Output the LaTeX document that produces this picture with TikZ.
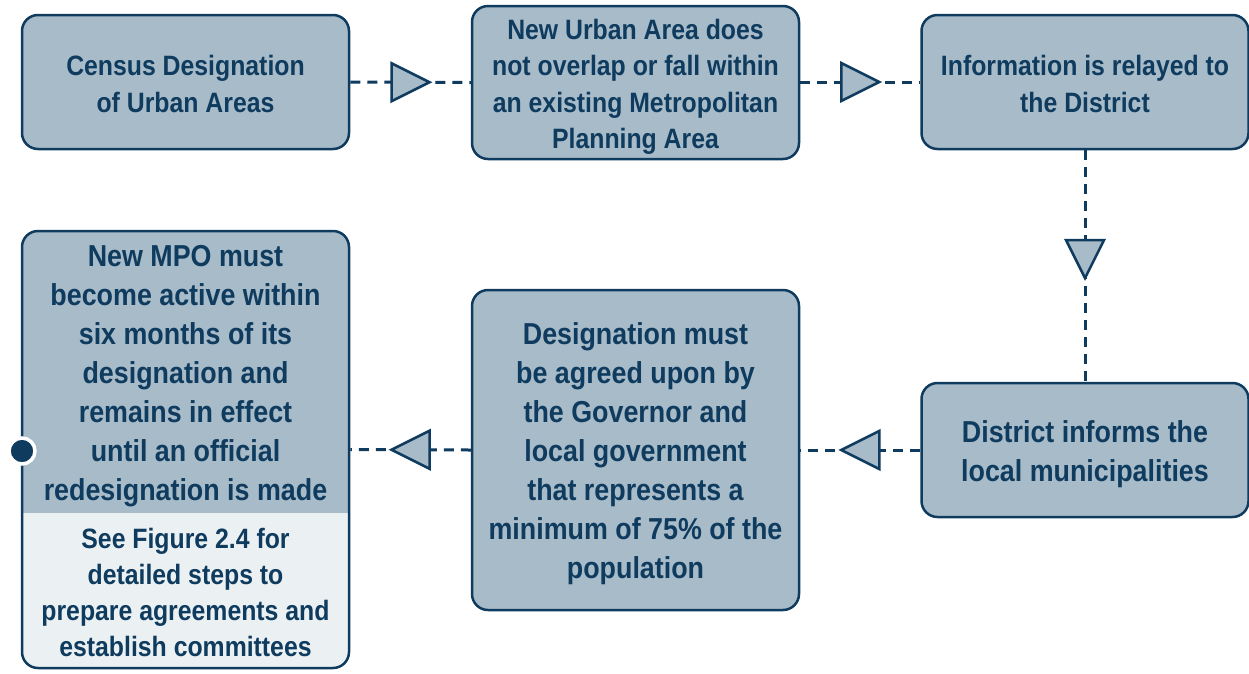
\documentclass[tikz,border=0pt]{standalone}
\usepackage{fontspec}
\setmainfont[FakeStretch=0.886]{Liberation Sans}
\usetikzlibrary{calc}
\definecolor{navy}{HTML}{0E3B5E}
\definecolor{boxfill}{HTML}{A8BBC9}
\definecolor{lightfill}{HTML}{EBF0F3}
\begin{document}
\begin{tikzpicture}[x=1pt,y=-1pt,
  box/.style={draw=navy, line width=2.5pt, fill=boxfill, rounded corners=16pt, inner sep=0pt},
  txt/.style={text=navy, align=center, font=\fontsize{28}{36.5}\selectfont\bfseries, inner sep=0pt},
  bigtxt/.style={txt, font=\fontsize{30.3}{39}\selectfont\bfseries},
  conn/.style={draw=navy, line width=3pt, dash pattern=on 10pt off 7pt},
  tri/.pic={\draw[navy, line width=2.5pt, fill=boxfill, line join=miter] (-19,-19) -- (19,0) -- (-19,19) -- cycle;}
]
\useasboundingbox (0,0) rectangle (1249,673);
% boxes
\node[box, minimum width=327pt, minimum height=134pt] (b1) at (185.5,82) {};
\node[txt] (t1) at (185.5,84) {Census Designation\\of Urban Areas};
\node[box, minimum width=327pt, minimum height=153pt] (b2) at (635.5,82.5) {};
\node[txt] (t2) at (635.5,87) {New Urban Area does\\not overlap or fall within\\an existing Metropolitan\\Planning Area};
\node[box, minimum width=327pt, minimum height=134pt] (b3) at (1085,82) {};
\node[txt] (t3) at (1085,84) {Information is relayed to\\the District};
\node[box, minimum width=327pt, minimum height=134pt] (b4) at (1085,450) {};
\node[bigtxt] (t4) at (1085,454) {District informs the\\local municipalities};
\node[box, minimum width=327pt, minimum height=320pt] (b5) at (635.5,450) {};
\node[bigtxt] (t5) at (635.5,454) {Designation must\\be agreed upon by\\the Governor and\\local government\\that represents a\\minimum of 75\% of the\\population};
% box 6 with two parts
\fill[lightfill, rounded corners=16pt] (22,231) rectangle (349,668);
\begin{scope}
  \clip (0,0) rectangle (1249,512);
  \fill[boxfill, rounded corners=16pt] (22,231) rectangle (349,668);
\end{scope}
\node[box, fill=none, minimum width=327pt, minimum height=437pt] (b6) at (185.5,449.5) {};
\node[bigtxt] (t6a) at (185.5,376.5) {New MPO must\\become active within\\six months of its\\designation and\\remains in effect\\until an official\\redesignation is made};
\node[txt, font=\fontsize{28}{36}\selectfont\bfseries] (t6b) at (185.5,592) {See Figure 2.4 for\\detailed steps to\\prepare agreements and\\establish committees};
% connectors
\draw[conn] (b1.east) -- (b2.west);
\draw[conn] (b2.east |- b1.east) -- (b3.west);
\draw[conn] (b3.south) -- (b4.north);
\draw[conn] (b4.west) -- (b5.east);
\draw[conn] (b5.west) -- (b6.east);
\pic at ($(b1.east)!0.5!(b2.west)$) {tri};
\pic at ($(b2.east |- b1.east)!0.5!(b3.west)$) {tri};
\pic[rotate=-90] at ($(b3.south)!0.47!(b4.north)$) {tri};
\pic[rotate=180] at ($(b4.west)!0.5!(b5.east)$) {tri};
\pic[rotate=180] at ($(b5.west)!0.5!(b6.east)$) {tri};
\node[circle, fill=navy, draw=white, line width=3.5pt, minimum size=26pt, inner sep=0pt] (dot) at (22,451) {};
\end{tikzpicture}
\end{document}
